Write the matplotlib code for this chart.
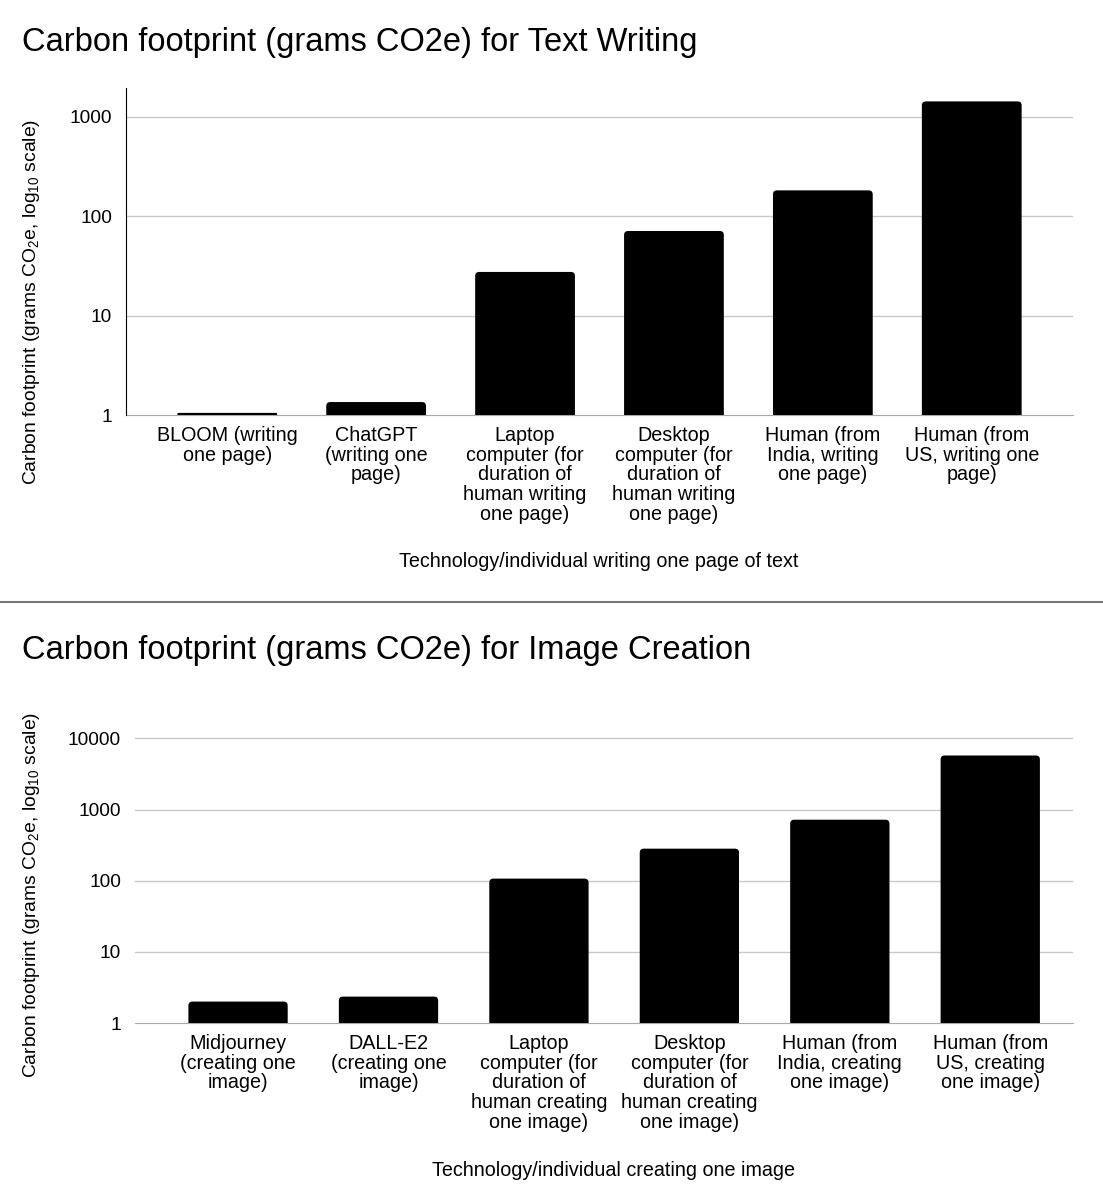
import matplotlib
matplotlib.use('Agg')
import matplotlib.pyplot as plt
from matplotlib.lines import Line2D
from matplotlib.patches import PathPatch
from matplotlib.path import Path
import numpy as np

plt.rcParams.update({
    'font.family': ['Liberation Sans', 'DejaVu Sans'],
    'mathtext.fontset': 'custom',
    'mathtext.rm': 'Liberation Sans',
    'mathtext.it': 'Liberation Sans:italic',
})

# ── Data ──
text_cats = ['BLOOM (writing\none page)', 'ChatGPT\n(writing one\npage)',
             'Laptop\ncomputer (for\nduration of\nhuman writing\none page)',
             'Desktop\ncomputer (for\nduration of\nhuman writing\none page)',
             'Human (from\nIndia, writing\none page)',
             'Human (from\nUS, writing one\npage)']
text_vals = [1.05, 1.35, 27.5, 71, 182, 1430]

image_cats = ['Midjourney\n(creating one\nimage)', 'DALL-E2\n(creating one\nimage)',
              'Laptop\ncomputer (for\nduration of\nhuman creating\none image)',
              'Desktop\ncomputer (for\nduration of\nhuman creating\none image)',
              'Human (from\nIndia, creating\none image)',
              'Human (from\nUS, creating\none image)']
image_vals = [2.0, 2.35, 107, 282, 720, 5750]

text_ticks = [1, 10, 100, 1000]
image_ticks = [1, 10, 100, 1000, 10000]

W, H = 1103, 1200
fig = plt.figure(figsize=(W / 100, H / 100), dpi=100)

ylab = 'Carbon footprint (grams CO$_2$e, log$_{10}$ scale)'
GRID = '#c8c8c8'


def style(ax, cats, vals, ticks, xlim, ylim, width, left_spine):
    x = np.arange(len(cats))
    ax.set_yscale('log')
    ax.set_ylim(*ylim)
    ax.set_xlim(*xlim)
    bars = ax.bar(x, vals, width=width, color='black', zorder=3)
    ax.set_yticks(ticks)
    ax.set_yticklabels([str(t) for t in ticks], fontsize=13.8)
    ax.minorticks_off()
    ax.set_xticks(x)
    ax.set_xticklabels(cats, fontsize=14.2, linespacing=1.04, va='top')
    ax.tick_params(axis='x', length=0, pad=8)
    ax.tick_params(axis='y', length=0, pad=10)
    for t in ticks[1:]:
        ax.axhline(t, color=GRID, lw=1, zorder=1)
    for s in ['top', 'right']:
        ax.spines[s].set_visible(False)
    ax.spines['bottom'].set_color('#aaaaaa')
    ax.spines['bottom'].set_zorder(2)
    if left_spine:
        ax.spines['left'].set_color('black')
    else:
        ax.spines['left'].set_visible(False)
    return bars


def round_tops(ax, bars, r=4):
    # replace plain bars by a path with slightly rounded top corners (pixel units)
    base = ax.get_ylim()[0]
    for b in bars:
        (x0, y0), (x1, y1) = ax.transData.transform(
            [(b.get_x(), base), (b.get_x() + b.get_width(), b.get_height())])
        b.set_visible(False)
        rr = min(r, (y1 - y0) / 2)
        verts = [(x0, y0), (x1, y0), (x1, y1 - rr), (x1, y1), (x1 - rr, y1),
                 (x0 + rr, y1), (x0, y1), (x0, y1 - rr), (x0, y0)]
        codes = [Path.MOVETO, Path.LINETO, Path.LINETO, Path.CURVE3, Path.CURVE3,
                 Path.LINETO, Path.CURVE3, Path.CURVE3, Path.CLOSEPOLY]
        fig.add_artist(PathPatch(Path(verts, codes), transform=None,
                                 fc='black', ec='none', zorder=3))


# ── Top: text writing ──
ax1 = fig.add_axes([126 / W, 1 - 415 / H, (1073 - 126) / W, (415 - 88) / H])
b1 = style(ax1, text_cats, text_vals, text_ticks, (-0.68, 5.68), (1, 1950), 0.67, True)
round_tops(ax1, b1)
fig.text(22 / W, 1 - 42 / H, 'Carbon footprint (grams CO2e) for Text Writing',
         fontsize=23.5, va='center', ha='left')
fig.text(599 / W, 1 - 562 / H, 'Technology/individual writing one page of text',
         fontsize=14.2, ha='center', va='center')
fig.text(32 / W, 1 - 302 / H, ylab, rotation=90, fontsize=13.9, ha='center', va='center')

# separator
fig.add_artist(Line2D([0, 1], [1 - 602 / H, 1 - 602 / H], color='#777777', lw=1.5,
                      transform=fig.transFigure))

# ── Bottom: image creation ──
ax2 = fig.add_axes([135 / W, 1 - 1023 / H, (1073 - 135) / W, (1023 - 728) / H])
b2 = style(ax2, image_cats, image_vals, image_ticks, (-0.685, 5.55), (1, 14000), 0.66, False)
round_tops(ax2, b2)
fig.text(22 / W, 1 - 650 / H, 'Carbon footprint (grams CO2e) for Image Creation',
         fontsize=23.5, va='center', ha='left')
fig.text(614 / W, 1 - 1170 / H, 'Technology/individual creating one image',
         fontsize=14.2, ha='center', va='center')
fig.text(32 / W, 1 - 895 / H, ylab, rotation=90, fontsize=13.9, ha='center', va='center')

fig.savefig('out.png', dpi=100)
